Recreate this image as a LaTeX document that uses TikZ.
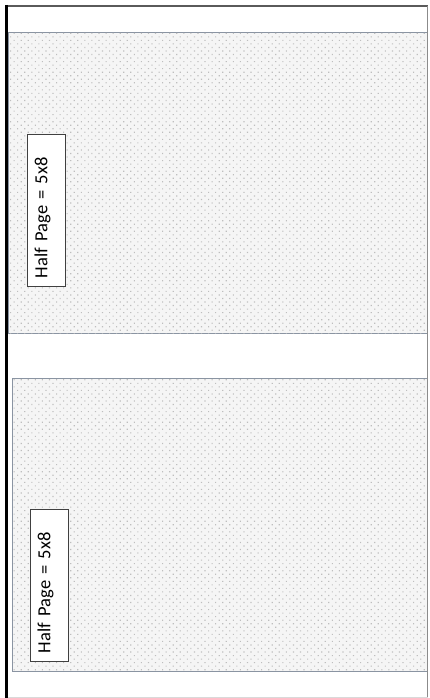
\documentclass[tikz,border=0pt]{standalone}
\usepackage{fontspec}
\setmainfont{Carlito}
\usetikzlibrary{patterns.meta}
\definecolor{panelline}{RGB}{138,148,162}
\definecolor{dotcol}{RGB}{190,190,190}
\definecolor{framegray}{RGB}{90,90,90}
\begin{document}
\begin{tikzpicture}[x=1pt,y=-1pt,
  panel/.style={draw=panelline, line width=1pt, fill=white!96!black,
    postaction={pattern color=dotcol, pattern={Dots[distance=5pt,angle=45,radius=0.8pt]}}},
  labelbox/.style={draw=black!75, line width=0.8pt, fill=white, rotate=90,
    minimum width=152pt, minimum height=38pt, text width=136pt,
    inner xsep=8pt, inner ysep=0pt, align=left,
    font=\fontsize{18.5}{22}\selectfont}]
\useasboundingbox (0,0) rectangle (430,698);
% panels
\draw[panel] (8,33) rectangle (427.5,333);
\draw[panel] (12,378) rectangle (427.5,671);
% outer frame
\draw[framegray, line width=1.3pt] (5,6) -- (428,6);
\draw[framegray!70, line width=1pt] (427.5,6) -- (427.5,698);
\draw[black!15, line width=0.8pt] (8,697) -- (427.5,697);
\draw[black, line width=3pt] (6.5,5) -- (6.5,698);
% labels
\node[labelbox] (upper) at (46.5,210) {Half Page = 5x8\rule[-11pt]{0pt}{11pt}};
\node[labelbox] (lower) at (49.5,585) {Half Page = 5x8\rule[-11pt]{0pt}{11pt}};
\end{tikzpicture}
\end{document}
